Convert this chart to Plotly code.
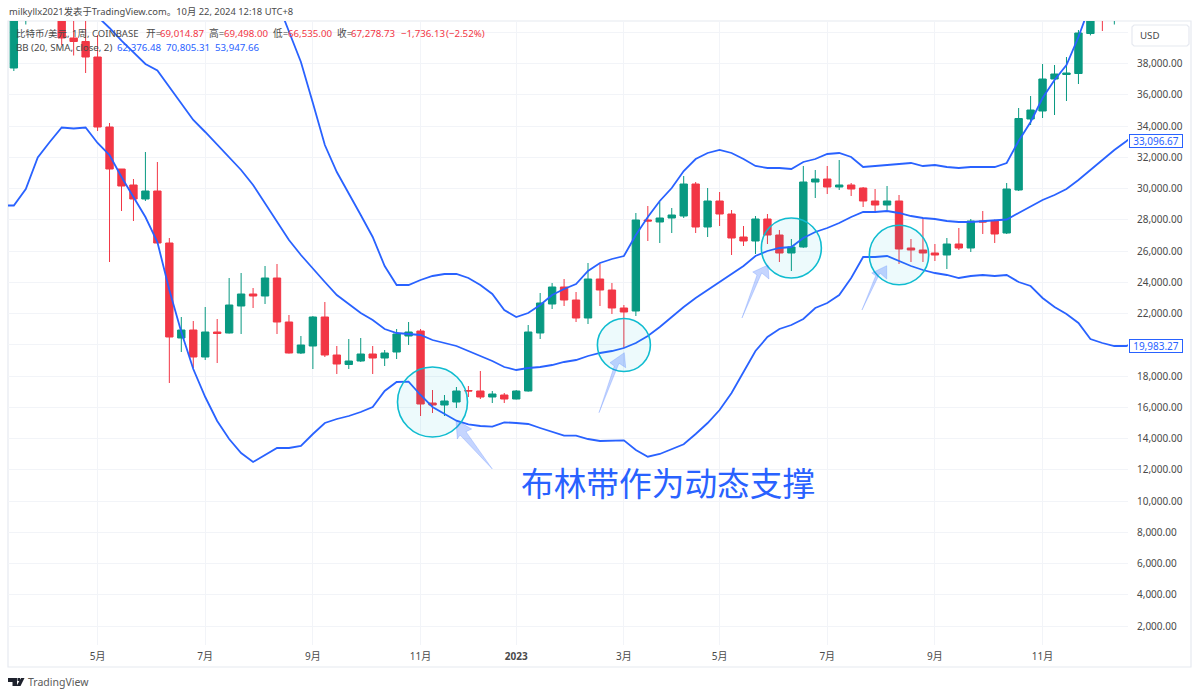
import pandas as pd
import plotly.graph_objects as go

# weekly bars, BTC/USD, first one is off the left edge
dates = pd.date_range("2022-03-07", periods=96, freq="7D")

opens = [39000, 37712, 41000, 44500, 46800, 42800, 39632, 39408,
         38416, 33936, 31248, 30224, 29328, 29840, 26512, 20432, 20944, 19216,
         20816, 20752, 22480, 23248, 23120, 24272, 21456, 19472, 19920, 21776,
         19344, 18736, 18960, 19408, 19152, 19536, 20560, 20880, 16272, 16144,
         16336, 17072, 17040, 16656, 16784, 16528, 17040, 20752, 22608, 23696,
         22864, 21712, 24208, 23504, 22352, 22160, 27984, 27856, 28112, 28240,
         30288, 27536, 29200, 28368, 26896, 26640, 28048, 27024, 25872, 26256,
         30416, 30608, 30096, 30224, 30032, 29200, 28944, 29200, 26192, 26064,
         25872, 25744, 26448, 26192, 27920, 27920, 27152, 29904, 34448, 34960,
         37008, 37296, 37360, 39920, 43900, 41900, 43000, 44000]
highs = [39600, 42300, 45000, 48200, 47400, 43000, 41500, 40900,
         39824, 34192, 31248, 30608, 32336, 31696, 26832, 21776, 21520, 22416,
         21648, 24272, 24592, 23632, 25040, 25168, 21904, 20560, 21840, 22736,
         19920, 20368, 20432, 19920, 19664, 21008, 21456, 21008, 17104, 16784,
         17296, 17360, 18320, 17040, 16912, 17104, 21264, 23312, 23952, 24208,
         23376, 25232, 25168, 23952, 22544, 28432, 28880, 29136, 28752, 30800,
         30416, 30032, 29776, 28624, 27600, 28240, 28368, 27344, 26768, 31440,
         31184, 31440, 31824, 30352, 30096, 29968, 30160, 29584, 26768, 28112,
         26448, 26832, 27472, 28048, 28560, 28016, 30352, 35152, 35920, 37968,
         37904, 38416, 40144, 44000, 44700, 45000, 45000, 48900]
lows = [37600, 37520, 40496, 44000, 42000, 39184, 38512, 37392,
        33680, 25296, 28560, 27920, 29200, 26480, 17552, 19536, 18512, 19024,
        18832, 20720, 20688, 22352, 22608, 20688, 19440, 19408, 18448, 19216,
        18128, 18448, 18900, 18128, 18640, 19088, 19984, 15440, 15632, 15440,
        15952, 16656, 16528, 16272, 16272, 16500, 17000, 20368, 22288, 22480,
        21456, 21328, 22480, 21968, 19792, 21840, 26640, 26512, 27152, 28112,
        27152, 26896, 27600, 25744, 26320, 25808, 26448, 25296, 24720, 26200,
        29392, 29648, 29904, 29520, 28816, 28432, 28624, 25168, 25296, 25296,
        25360, 24848, 26064, 25936, 27088, 26512, 27088, 29840, 34064, 34512,
        34704, 35600, 36688, 39800, 40080, 40496, 41200, 41000]
closes = [37700, 41000, 44500, 46800, 42800, 39632, 39408, 38416,
          33936, 31248, 30160, 29328, 29840, 26512, 20496, 20944, 19216, 20816,
          20720, 22544, 23248, 23120, 24272, 21456, 19472, 19984, 21776, 19344,
          18768, 18960, 19408, 19152, 19472, 20688, 20816, 16208, 16144, 16400,
          17040, 17040, 16656, 16848, 16528, 17040, 20816, 22672, 23696, 22864,
          21712, 24208, 23504, 22352, 22096, 27984, 27920, 28112, 28304, 30288,
          27536, 29200, 28368, 26832, 26640, 28048, 27024, 25872, 26256, 30416,
          30608, 30096, 30224, 29968, 29200, 28944, 29200, 26128, 26064, 25872,
          25744, 26448, 26192, 27920, 27856, 27088, 29968, 34480, 35024, 37008,
          37328, 37392, 39952, 42300, 41900, 43800, 44000, 43900]

bb_upper = [59888, 59688, 58432, 55816, 54024, 52096, 50960, 49600,
            49092, 48400, 48182, 48016, 47760, 48528, 49514, 50128, 50320, 50576,
            50448, 50064, 49296, 47952, 45200, 42000, 40048, 38096, 35472, 32784,
            31056, 29712, 28304, 26896, 25040, 23824, 23824, 24144, 24400, 24528,
            24528, 24272, 23824, 23248, 22224, 21776, 22032, 22544, 23184, 23568,
            23888, 24720, 25232, 25488, 25680, 27024, 28176, 29200, 30032, 31120,
            31888, 32272, 32464, 32272, 31888, 31440, 31312, 31312, 31248, 31696,
            31888, 32208, 32272, 32016, 31376, 31440, 31504, 31568, 31632, 31440,
            31504, 31376, 31312, 31376, 31376, 31376, 31632, 33040, 34256, 35792,
            36944, 37904, 39696, 41744, 44000, 46000, 47500, 48500]
bb_mid = [44400, 44300, 44200, 43900, 43500, 43000, 42400, 41750,
          41002, 40272, 39459, 38736, 37968, 37552, 36509, 35472, 34384, 33616,
          32784, 32016, 31184, 30224, 29072, 27856, 26704, 25744, 24848, 24016,
          23184, 22608, 22032, 21584, 21008, 20752, 20688, 20624, 20304, 20112,
          19920, 19600, 19280, 18960, 18576, 18384, 18512, 18576, 18704, 18896,
          19024, 19280, 19472, 19600, 19792, 20112, 20560, 21136, 21776, 22416,
          22992, 23504, 24016, 24528, 25040, 25680, 26000, 26192, 26256, 26832,
          27216, 27472, 27792, 28176, 28496, 28496, 28560, 28432, 28240, 28112,
          28048, 27920, 27856, 27856, 27920, 27952, 28016, 28432, 28848, 29264,
          29584, 29968, 30544, 31184, 31824, 32464, 33024, 33664]
bb_lower = [28912, 28912, 29968, 31984, 32976, 33904, 33840, 33904,
            32912, 32144, 30736, 29456, 28176, 26576, 23504, 20816, 18448, 16656,
            15120, 13968, 13072, 12496, 12944, 13392, 13392, 13520, 14288, 14992,
            15248, 15440, 15696, 16016, 17040, 17616, 17635, 16784, 16016, 15568,
            15139, 14909, 14800, 14755, 15037, 14992, 14928, 14672, 14416, 14179,
            14179, 13968, 13840, 13885, 13885, 13264, 12835, 13008, 13309, 13629,
            14288, 14992, 15824, 16912, 18256, 19600, 20496, 21008, 21264, 21648,
            22352, 22672, 23184, 24272, 25616, 25616, 25680, 25360, 25040, 24784,
            24592, 24464, 24272, 24400, 24464, 24400, 24464, 24016, 23760, 22992,
            22416, 21968, 21392, 20368, 20112, 19920, 19920, 20240]

month_ticks = ["2022-05-02", "2022-07-04", "2022-09-05", "2022-11-07", "2023-01-02",
               "2023-03-06", "2023-05-01", "2023-07-03", "2023-09-04", "2023-11-06"]
month_labels = ["5月", "7月", "9月", "11月", "<b>2023</b>", "3月", "5月", "7月", "9月", "11月"]
price_ticks = list(range(2000, 40001, 2000))
# 20,000 and 40,000 sit behind the value box and the USD box
price_labels = ["" if p in (20000, 40000) else f"{p:,.2f}" for p in price_ticks]

# date, price, radius of the drawn circles
circle_dates = ["2022-11-14", "2023-03-06", "2023-06-12", "2023-08-14"]
circle_prices = [16336, 19984, 26192, 25744]
circle_radius = [35, 26.5, 30, 29.7]

RED = "#F23645"
GREEN = "#089981"
BLUE = "#2962FF"
FRAME = "#E6E9F0"
GRID = "#F2F4F8"
TEXT = "#4A4A4A"
FONT = "Noto Sans, Noto Sans CJK SC, sans-serif"
SIZE = 9.7
W, H = 1200, 696


def px_x(x):
    return x / W


def px_y(y):
    return 1 - y / H


def poly(points):
    return "M " + " L ".join(f"{px_x(x):.5f} {px_y(y):.5f}" for x, y in points) + " Z"


def label(text, x, y, color=TEXT, size=SIZE, **kw):
    return dict(text=text, xref="paper", yref="paper", x=px_x(x), y=px_y(y), xanchor="left",
                yanchor="middle", showarrow=False, borderpad=0,
                font=dict(family=FONT, size=size, color=color), **kw)


fig = go.Figure()
for band in [bb_upper, bb_mid, bb_lower]:
    fig.add_trace(go.Scatter(x=dates, y=band, mode="lines", line=dict(color=BLUE, width=1.8),
                             hoverinfo="skip"))
fig.add_trace(go.Candlestick(x=dates, open=opens, high=highs, low=lows, close=closes,
                             increasing=dict(line=dict(color=GREEN, width=1), fillcolor=GREEN),
                             decreasing=dict(line=dict(color=RED, width=1), fillcolor=RED)))

shapes = []
# outer frame of the chart
shapes.append(dict(type="path", xref="paper", yref="paper", layer="below",
                   path=poly([(8, 21), (1191, 21), (1191, 667), (8, 667)]),
                   line=dict(color=FRAME, width=1.2)))
# USD box
shapes.append(dict(type="path", xref="paper", yref="paper",
                   path=poly([(1134, 25), (1187, 25), (1189, 27), (1189, 44), (1187, 46),
                              (1134, 46), (1132, 44), (1132, 27)]),
                   line=dict(color=FRAME, width=1.2), fillcolor="white"))
for d, p, r in zip(circle_dates, circle_prices, circle_radius):
    shapes.append(dict(type="circle", xref="x", yref="y", xsizemode="pixel", ysizemode="pixel",
                       xanchor=d, yanchor=p, x0=-r, x1=r, y0=-r, y1=r,
                       line=dict(color="#10BCD0", width=1.6), fillcolor="rgba(0,188,212,0.07)"))
arrows = [
    [(492.3, 469), (466, 431.7), (471.7, 429), (456, 420), (457.3, 439), (460, 435)],
    [(599, 412.7), (619, 363.3), (625.7, 367.7), (624.3, 352.7), (610, 362.7), (614.3, 366)],
    [(742, 318), (761.7, 273), (769, 279), (768, 265), (752.7, 272), (757, 275)],
    [(862, 310), (880, 273), (886.7, 279), (886.7, 265.7), (871.7, 273), (875.7, 275.7)],
]
for a in arrows:
    shapes.append(dict(type="path", xref="paper", yref="paper", path=poly(a),
                       line=dict(color="rgba(41,98,255,0.2)", width=1),
                       fillcolor="rgba(41,98,255,0.27)"))
# TradingView logo
logo = [
    [(8, 678), (17, 678), (17, 686), (12.5, 686), (12.5, 682), (8, 682)],
    [(21, 678), (24.5, 678), (20.5, 686), (16.5, 686)],
    [(17.5, 678), (20, 678), (20, 681), (17.5, 681)],
]
for l in logo:
    shapes.append(dict(type="path", xref="paper", yref="paper", path=poly(l),
                       line=dict(width=0), fillcolor="#1E222D"))

annotations = [
    label("milkyllx2021发表于TradingView.com。10月 22, 2024 12:18 UTC+8", 8, 11.5, size=9.4),
    label("比特币/美元, 1周, COINBASE", 15, 34, size=9.5),
    label("开=", 145, 34), label("69,014.87", 159, 34, RED),
    label("高=", 208, 34), label("69,498.00", 223, 34, RED),
    label("低=", 272, 34), label("66,535.00", 287, 34, RED),
    label("收=", 336, 34), label("67,278.73", 350, 34, RED),
    label("−1,736.13", 400, 34, RED), label("(−2.52%)", 445, 34, RED),
    label("BB (20, SMA, close, 2)", 15, 47.5),
    label("62,376.48", 116, 47.5, BLUE), label("70,805.31", 165, 47.5, BLUE),
    label("53,947.66", 214, 47.5, BLUE),
    label("USD", 1139, 36),
    label("TradingView", 27, 682, "#5A5A5A", 10.5),
    label("布林带作为动态支撑", 520, 483, BLUE, 32.7),
]
for value, y in [("33,096.67", 141.5), ("19,983.27", 346)]:
    annotations.append(dict(text=value, xref="paper", yref="paper", x=px_x(1156), y=px_y(y),
                            xanchor="center", yanchor="middle", showarrow=False,
                            width=50, height=10, borderpad=1, bgcolor="white",
                            bordercolor=BLUE, borderwidth=1,
                            font=dict(family=FONT, size=10, color=BLUE)))

fig.update_layout(
    width=W, height=H, margin=dict(l=0, r=0, t=0, b=0), autosize=False,
    paper_bgcolor="white", plot_bgcolor="white", showlegend=False, boxgap=0.12,
    shapes=shapes, annotations=annotations,
    xaxis=dict(domain=[8 / W, 1128 / W], type="date", range=["2022-03-10 14:00", "2023-12-26"],
               tickmode="array", tickvals=month_ticks, ticktext=month_labels,
               showgrid=True, gridcolor=GRID, gridwidth=1, zeroline=False, showline=False,
               ticks="", ticklabelstandoff=4, rangeslider=dict(visible=False),
               tickfont=dict(family=FONT, size=10, color=TEXT)),
    yaxis=dict(domain=[1 - 645 / H, 1 - 21 / H], side="right", range=[784, 40720],
               tickmode="array", tickvals=price_ticks, ticktext=price_labels,
               showgrid=True, gridcolor=GRID, gridwidth=1, zeroline=False, showline=False,
               ticks="", ticklabelstandoff=8,
               tickfont=dict(family=FONT, size=10, color=TEXT)),
)

fig.write_html("out.html", config=dict(displayModeBar=False),
               post_script="document.body.style.margin='0';document.body.style.overflow='hidden';")
